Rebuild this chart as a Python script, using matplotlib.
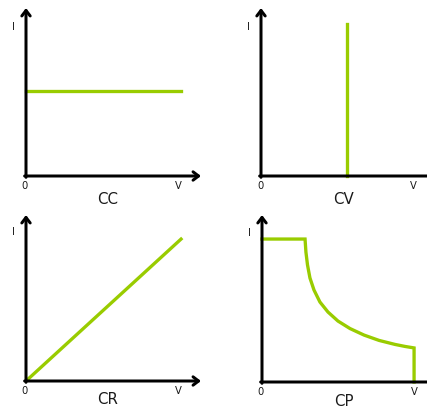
import numpy as np
import matplotlib
matplotlib.use('Agg')
import matplotlib.pyplot as plt

# Curvas caracteristicas (unidades relativas: 1 = largo del eje)
cc_v = [0.0, 0.886]
cc_i = [0.506, 0.506]

cv_v = [0.491, 0.491]
cv_i = [0.0, 0.905]

cr_v = [0.0, 0.886]
cr_i = [0.0, 0.855]

cp_v = [0.0, 0.246, 0.251, 0.260, 0.274, 0.297, 0.331, 0.377, 0.434, 0.503,
        0.583, 0.669, 0.760, 0.817, 0.869, 0.869]
cp_i = [0.856, 0.856, 0.778, 0.701, 0.623, 0.551, 0.479, 0.419, 0.365, 0.320,
        0.281, 0.249, 0.225, 0.213, 0.204, 0.0]

titulos = ['CC', 'CV', 'CR', 'CP']
curvas = [(cc_v, cc_i), (cv_v, cv_i), (cr_v, cr_i), (cp_v, cp_i)]

# origen de cada panel en pixeles (x, y desde arriba), altura del eje y, offset del titulo
paneles = [(26, 176, 168, -23), (261, 176, 168, -23),
           (26, 381, 166, -19), (262, 382, 167, -20)]

W, H = 427, 410
verde = '#99cc00'
fig = plt.figure(figsize=(W / 72, H / 72), dpi=72)

for (x0, y0, alto, dy_t), titulo, (v, i) in zip(paneles, titulos, curvas):
    ax = fig.add_axes([x0 / W, (H - y0) / H, 175 / W, alto / H])
    ax.set_xlim(0, 1)
    ax.set_ylim(0, 1)
    ax.axis('off')

    # ejes con flecha
    flecha = dict(arrowstyle='->,head_length=0.55,head_width=0.42', lw=3,
                  color='black', shrinkA=0, shrinkB=0)
    ax.annotate('', xy=(0, 1.0), xytext=(0, -0.008), xycoords='axes fraction',
                arrowprops=flecha, annotation_clip=False)
    ax.annotate('', xy=(1.0, 0), xytext=(-0.008, 0), xycoords='axes fraction',
                arrowprops=flecha, annotation_clip=False)

    ax.plot(v, i, color=verde, lw=3.3, clip_on=False, solid_joinstyle='miter')

    txt = dict(xy=(0, 0), xycoords='axes fraction', textcoords='offset points',
               ha='center', va='center', color='#1a1a1a', annotation_clip=False)
    ax.annotate('I', xytext=(-13, 149), fontsize=10, **txt)
    ax.annotate('0', xytext=(-1, -10), fontsize=10, **txt)
    ax.annotate('V', xytext=(152, -10), fontsize=10, **txt)
    ax.annotate(titulo, xytext=(82, dy_t), fontsize=15, **txt)

plt.savefig('out.png', dpi=72)
